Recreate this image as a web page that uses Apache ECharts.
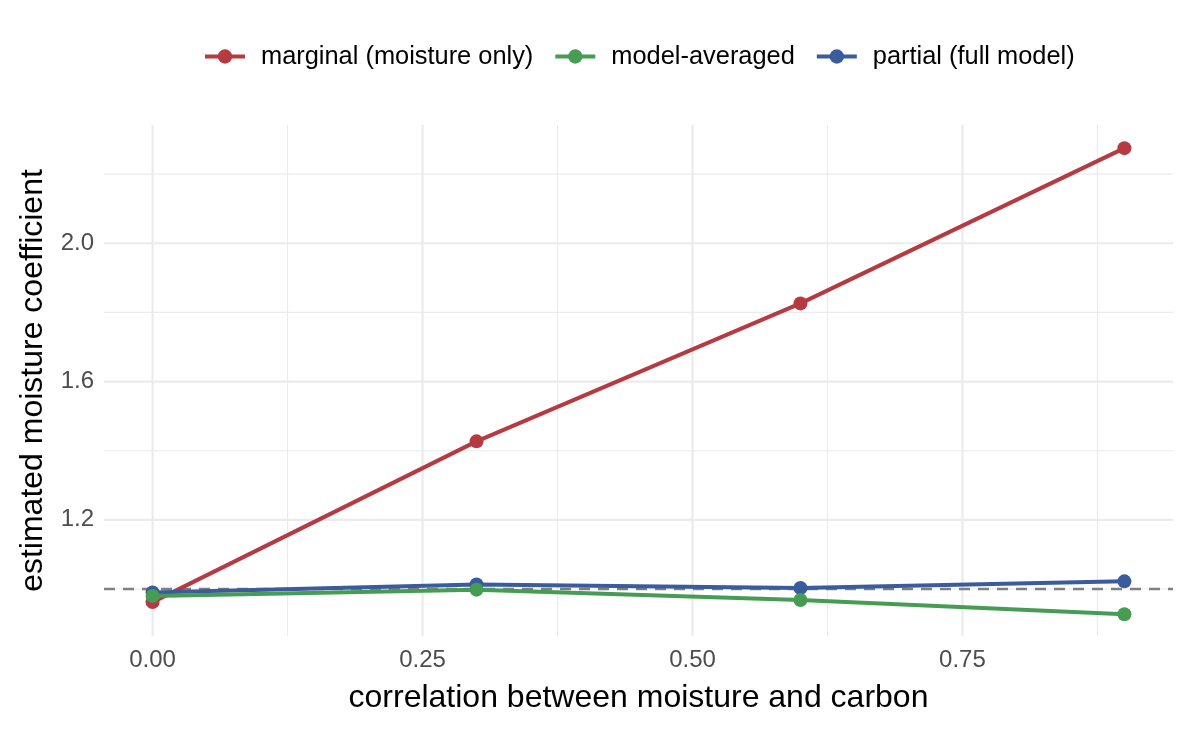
<!DOCTYPE html>
<html><head><meta charset="utf-8">
<script src="https://cdn.jsdelivr.net/npm/echarts@6/dist/echarts.min.js"></script>
<style>html,body{margin:0;padding:0;background:#fff}#c{width:1190px;height:729px}</style>
</head><body><div id="c"></div>
<script>
const correlation = [0, 0.3, 0.6, 0.9];
const marginal = [0.962, 1.427, 1.826, 2.275];
const modelAveraged = [0.980, 0.998, 0.968, 0.927];
const partial = [0.990, 1.013, 1.003, 1.022];
const xTicks = [0, 0.25, 0.5, 0.75];
const xMinor = [0.125, 0.375, 0.625, 0.875];
const yTicks = [1.2, 1.6, 2.0];
const yMinor = [1.0, 1.4, 1.8, 2.2];
const refValue = 1.0;
const seriesNames = ['marginal (moisture only)', 'model-averaged', 'partial (full model)'];
const colors = ['#B63A41', '#479C53', '#3A5C9C'];

const X_MIN = -0.045, X_MAX = 0.945, Y_MIN = 0.864, Y_MAX = 2.342;
const FONT = 'Liberation Sans';
const chart = echarts.init(document.getElementById('c'));
const pairs = a => correlation.map((x, i) => [x, a[i]]);

const rule = (data, color, width, type, z) => ({
  type: 'line', data, z, silent: true, symbol: 'none', showSymbol: false,
  lineStyle: {color, width, type}, emphasis: {disabled: true}, animation: false, tooltip: {show: false}
});
const gridSeries = [
  ...xMinor.map(v => rule([[v, Y_MIN], [v, Y_MAX]], '#EBEBEB', 1.1, 'solid', 0)),
  ...yMinor.map(v => rule([[X_MIN, v], [X_MAX, v]], '#EBEBEB', 1.1, 'solid', 0)),
  ...xTicks.map(v => rule([[v, Y_MIN], [v, Y_MAX]], '#EBEBEB', 2.2, 'solid', 0)),
  ...yTicks.map(v => rule([[X_MIN, v], [X_MAX, v]], '#EBEBEB', 2.2, 'solid', 0)),
  rule([[X_MIN, refValue], [X_MAX, refValue]], '#7F7F7F', 2.4, [11, 8], 1)
];
const mk = (name, data, color, z) => ({
  name, type: 'line', data: pairs(data), z,
  symbol: 'circle', symbolSize: 14, showSymbol: true,
  lineStyle: {color, width: 4}, itemStyle: {color},
  emphasis: {disabled: true}, animation: false
});
chart.setOption({
  animation: false,
  legend: {
    top: 39, left: 198, data: seriesNames,
    itemWidth: 40, itemHeight: 18, itemGap: 20,
    lineStyle: {width: 4},
    textStyle: {fontFamily: FONT, fontSize: 25.4, color: '#000', padding: [0, 0, 0, 11]}
  },
  grid: {left: 104, right: 17, top: 125, bottom: 93, containLabel: false},
  xAxis: {
    type: 'value', min: X_MIN, max: X_MAX,
    name: 'correlation between moisture and carbon', nameLocation: 'middle', nameGap: 46,
    nameTextStyle: {fontFamily: FONT, fontSize: 32, color: '#000'},
    axisLine: {show: false}, axisTick: {show: false}, splitLine: {show: false},
    axisLabel: {customValues: xTicks, margin: 12, fontFamily: FONT, fontSize: 24, color: '#4D4D4D',
      formatter: v => v.toFixed(2)}
  },
  yAxis: {
    type: 'value', min: Y_MIN, max: Y_MAX,
    name: 'estimated moisture coefficient', nameLocation: 'middle', nameGap: 55,
    nameTextStyle: {fontFamily: FONT, fontSize: 32, color: '#000'},
    axisLine: {show: false}, axisTick: {show: false}, splitLine: {show: false},
    axisLabel: {customValues: yTicks, margin: 10, fontFamily: FONT, fontSize: 24, color: '#4D4D4D',
      formatter: v => v.toFixed(1)}
  },
  series: [
    ...gridSeries,
    mk(seriesNames[0], marginal, colors[0], 2),
    mk(seriesNames[2], partial, colors[2], 3),
    mk(seriesNames[1], modelAveraged, colors[1], 4)
  ]
});
</script></body></html>
